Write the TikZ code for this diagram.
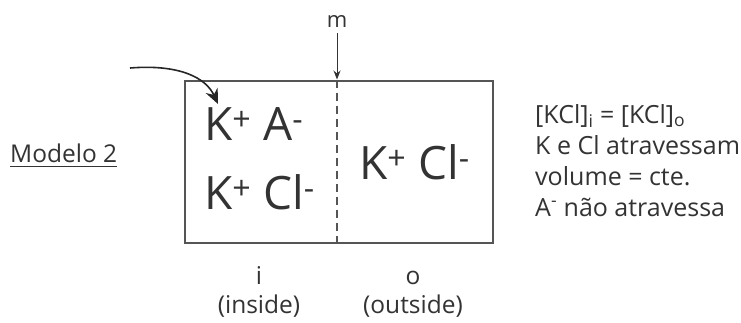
\documentclass[tikz,border=0pt]{standalone}
\usepackage{fontspec}
\setmainfont{Open Sans}
\usetikzlibrary{arrows.meta}
\definecolor{txt}{HTML}{333333}
\definecolor{boxc}{HTML}{555555}
\tikzset{
  lbl/.style={inner sep=0pt, text=txt, anchor=base west},
  big/.style={lbl, font=\fontsize{46}{50}\selectfont},
  side/.style={lbl, font=\fontsize{25}{28}\selectfont},
  bottom/.style={inner sep=0pt, text=txt, anchor=base, font=\fontsize{24.5}{27}\selectfont},
}
\begin{document}
\begin{tikzpicture}[x=1pt,y=-1pt]
\useasboundingbox (0,0) rectangle (741,322);
% box
\node[draw=boxc, line width=2pt, minimum width=308pt, minimum height=162pt, inner sep=0pt, anchor=north west] (box) at (184,79.5) {};
\coordinate (mtop) at (337,79.5);
\coordinate (mbot) at (337,241.5);
\draw[boxc, line width=1.6pt, dash pattern=on 8pt off 5pt] (mtop) -- (mbot);
% m label and arrow
\node[inner sep=0pt, text=txt, anchor=base, font=\fontsize{22}{24}\selectfont] (m) at (337,27) {m};
\draw[-{Stealth[length=9pt,width=7pt]}, line width=0.9pt, txt] (m.south) ++(0,6) coordinate (ms) -- (mtop);
% ions
\node[big] (r1) at (204,140) {K\textsuperscript{+} A\textsuperscript{-}};
\node[big] (r2) at (204,209) {K\textsuperscript{+} Cl\textsuperscript{-}};
\node[big] (r3) at (359,179) {K\textsuperscript{+} Cl\textsuperscript{-}};
% curved arrow
\coordinate (cstart) at (130,68);
\coordinate (cend) at (218,104);
\draw[-{Stealth[length=15pt,width=13pt]}, line width=1.6pt, black!85] (cstart) .. controls (180,64) and (206,78) .. (cend);
% Modelo 2
\node[lbl, font=\fontsize{24.5}{27}\selectfont] (mod) at (10,162) {Modelo 2};
\draw[txt, line width=1pt] ([yshift=-4.5pt]mod.base west) -- ([yshift=-4.5pt]mod.base east);
% right text
\node[side] (t1) at (535,123) {[KCl]\textsubscript{i} = [KCl]\textsubscript{o}};
\node[side] (t2) at (535,154) {K e Cl atravessam};
\node[side] (t3) at (535,185) {volume = cte.};
\node[side] (t4) at (535,216) {A\textsuperscript{-} não atravessa};
% bottom labels
\node[bottom] (i) at (259,284) {i};
\node[bottom] (inside) at (259,313) {(inside)};
\node[bottom] (o) at (413,284) {o};
\node[bottom] (outside) at (413,313) {(outside)};
\end{tikzpicture}
\end{document}
